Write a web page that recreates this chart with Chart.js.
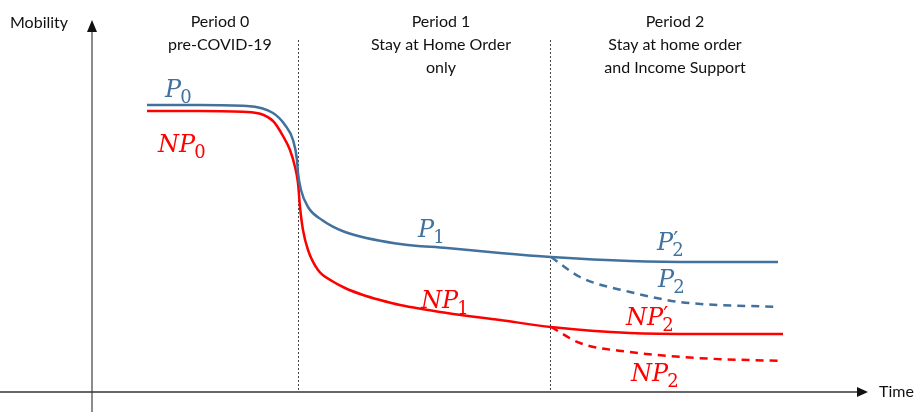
<!DOCTYPE html>
<html>
<head>
<meta charset="utf-8">
<script src="https://cdn.jsdelivr.net/npm/chart.js@4.4.0/dist/chart.umd.min.js"></script>
<style>
    html, body { margin: 0; padding: 0; background: #fff; }
    #wrap { width: 918px; height: 412px; }
</style>
</head>
<body>
<div id="wrap"><canvas id="mobilityChart" width="918" height="412"></canvas></div>
<script>
// Conceptual mobility paths, time units on x, mobility units on y (axis origin = 0,0)
const PERIOD_BOUNDS = [20.6, 45.8];

// P0 -> P1 -> P2' (solid blue)
const P_T = [5.5, 10.8, 15.5, 18.1, 19.3, 20.1, 20.5, 20.6, 20.9, 21.6, 23.0, 25.3, 30.8, 35.5, 40.8, 45.9, 53.8, 60.8, 68.6];
const P_M = [28.7, 28.7, 28.6, 27.9, 26.7, 25.2, 23.2, 21.9, 20.2, 18.5, 17.2, 16.0, 14.8, 14.4, 13.9, 13.5, 13.1, 13.0, 13.0];

// NP0 -> NP1 -> NP2' (solid red)
const NP_T = [5.5, 10.8, 15.5, 18.1, 19.1, 19.8, 20.3, 20.6, 20.8, 21.1, 21.6, 22.6, 24.0, 25.3, 27.1, 28.8, 30.8, 35.5, 40.8, 45.9, 53.8, 60.8, 69.1];
const NP_M = [28.1, 28.1, 28.0, 27.1, 25.6, 24.2, 22.5, 20.9, 18.5, 16.2, 14.2, 12.2, 11.1, 10.4, 9.7, 9.2, 8.7, 7.9, 7.2, 6.5, 5.9, 5.8, 5.8];

// P2 (dashed blue) and NP2 (dashed red), period 2 without income support
const P2_T = [45.9, 48.8, 53.8, 58.8, 68.5];
const P2_M = [13.5, 11.5, 10.0, 9.0, 8.5];
const NP2_T = [45.9, 48.8, 53.8, 60.5, 69.1];
const NP2_M = [6.5, 4.9, 4.0, 3.4, 3.1];

const PERIOD_LABELS = [
    { t: 12.8, lines: ["Period 0", "pre-COVID-19"] },
    { t: 34.9, lines: ["Period 1", "Stay at Home Order", "only"] },
    { t: 58.3, lines: ["Period 2", "Stay at home order", "and Income Support"] },
];

const BLUE = "#41719c";
const RED = "#ff0000";

// curve labels: base letters, subscript, prime
const CURVE_LABELS = [
    { t: 7.3, m: 29.5, base: "P", sub: "0", prime: false, color: BLUE },
    { t: 6.6, m: 24.0, base: "NP", sub: "0", prime: false, color: RED },
    { t: 32.6, m: 15.5, base: "P", sub: "1", prime: false, color: BLUE },
    { t: 32.9, m: 8.4, base: "NP", sub: "1", prime: false, color: RED },
    { t: 56.5, m: 14.2, base: "P", sub: "2", prime: true, color: BLUE },
    { t: 56.6, m: 10.5, base: "P", sub: "2", prime: false, color: BLUE },
    { t: 53.4, m: 6.7, base: "NP", sub: "2", prime: true, color: RED },
    { t: 53.9, m: 1.1, base: "NP", sub: "2", prime: false, color: RED },
];

const TEXT_FONT = '16px Lato';

function toPoints(ts, ms) {
    return ts.map((t, i) => ({ x: t, y: ms[i] }));
}

function lineSet(ts, ms, color, dashed) {
    return {
        data: toPoints(ts, ms),
        borderColor: color,
        borderWidth: 2.5,
        borderDash: dashed ? [8, 6] : [],
        pointRadius: 0,
        fill: false,
        cubicInterpolationMode: "monotone",
    };
}

function drawArrowHead(ctx, x, y, dir) {
    ctx.beginPath();
    if (dir === "up") {
        ctx.moveTo(x, y);
        ctx.lineTo(x - 5, y + 12);
        ctx.lineTo(x + 5, y + 12);
    } else {
        ctx.moveTo(x, y);
        ctx.lineTo(x - 11, y - 5);
        ctx.lineTo(x - 11, y + 5);
    }
    ctx.closePath();
    ctx.fill();
}

function drawMath(ctx, x, y, item) {
    ctx.fillStyle = item.color;
    ctx.textAlign = "left";
    ctx.textBaseline = "alphabetic";
    ctx.font = 'italic 24px "DejaVu Serif"';
    ctx.fillText(item.base, x, y);
    const w = ctx.measureText(item.base).width;
    if (item.prime) {
        ctx.font = '22px "DejaVu Sans"';
        ctx.fillText("\u2032", x + w, y - 3);
    }
    ctx.font = '18px "DejaVu Serif"';
    ctx.fillText(item.sub, x + w - 1, y + 6);
}

const diagramPlugin = {
    id: "diagram",
    beforeDatasetsDraw(chart) {
        const { ctx, scales: { x, y } } = chart;
        const x0 = x.getPixelForValue(0);
        const y0 = y.getPixelForValue(0);
        ctx.save();

        // period separators
        ctx.strokeStyle = "#444";
        ctx.lineWidth = 1;
        ctx.setLineDash([2, 2]);
        PERIOD_BOUNDS.forEach((b) => {
            const px = Math.round(x.getPixelForValue(b)) + 0.5;
            ctx.beginPath();
            ctx.moveTo(px, 40);
            ctx.lineTo(px, y0);
            ctx.stroke();
        });
        ctx.setLineDash([]);

        // y axis
        ctx.strokeStyle = "#666";
        ctx.fillStyle = "#111";
        ctx.lineWidth = 1.5;
        ctx.beginPath();
        ctx.moveTo(x0, chart.height);
        ctx.lineTo(x0, 30);
        ctx.stroke();
        drawArrowHead(ctx, x0, 20, "up");

        // x axis
        ctx.strokeStyle = "#333";
        ctx.beginPath();
        ctx.moveTo(0, y0);
        ctx.lineTo(858, y0);
        ctx.stroke();
        drawArrowHead(ctx, 868, y0, "right");

        // texts
        ctx.fillStyle = "#111";
        ctx.font = TEXT_FONT;
        ctx.textBaseline = "alphabetic";
        ctx.textAlign = "left";
        ctx.fillText("Mobility", 10, 28);
        ctx.fillText("Time", 879, 397);
        ctx.textAlign = "center";
        PERIOD_LABELS.forEach((p) => {
            const cx = x.getPixelForValue(p.t);
            p.lines.forEach((line, i) => ctx.fillText(line, cx, 27 + i * 23));
        });
        ctx.restore();
    },
    afterDatasetsDraw(chart) {
        const { ctx, scales: { x, y } } = chart;
        ctx.save();
        CURVE_LABELS.forEach((c) => {
            drawMath(ctx, x.getPixelForValue(c.t), y.getPixelForValue(c.m), c);
        });
        ctx.restore();
    },
};

new Chart(document.getElementById("mobilityChart"), {
    type: "line",
    data: {
        datasets: [
            lineSet(P_T, P_M, BLUE, false),
            lineSet(NP_T, NP_M, RED, false),
            lineSet(P2_T, P2_M, BLUE, true),
            lineSet(NP2_T, NP2_M, RED, true),
        ],
    },
    options: {
        responsive: false,
        animation: false,
        layout: { padding: 0 },
        plugins: { legend: { display: false }, tooltip: { enabled: false } },
        scales: {
            x: { type: "linear", display: false, min: -9.2, max: 82.6 },
            y: { type: "linear", display: false, min: -2.0, max: 39.2 },
        },
    },
    plugins: [diagramPlugin],
});
</script>
</body>
</html>
